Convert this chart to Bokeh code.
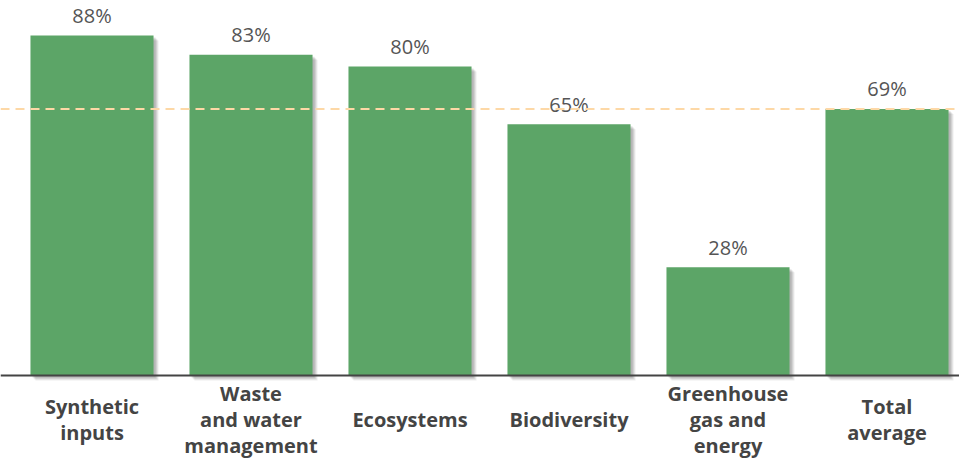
from bokeh.plotting import figure
from bokeh.models import ColumnDataSource, Span
from bokeh.core.properties import value
from bokeh.embed import file_html
from bokeh.resources import INLINE

categories = ["Synthetic\ninputs", "Waste\nand water\nmanagement", "Ecosystems",
              "Biodiversity", "Greenhouse\ngas and\nenergy", "Total\naverage"]
values = [88, 83, 80, 65, 28, 69]
value_labels = ["88%", "83%", "80%", "65%", "28%", "69%"]
average = 69

W, H = 959, 458
x_start, x_end = -0.5755, 5.456
y_start, y_end = -21.48, 97.05
px_x = (x_end - x_start) / W
px_y = (y_end - y_start) / H

xs = list(range(len(categories)))
bw = 0.774

src = ColumnDataSource(dict(
    x=xs, left=[x - bw / 2 for x in xs], right=[x + bw / 2 for x in xs],
    top=values, bottom=[0] * len(xs), lbl=value_labels, cat=categories,
    laby=[-11.4] * len(xs)))

p = figure(width=W, height=H, output_backend="svg", toolbar_location=None,
           x_range=(x_start, x_end), y_range=(y_start, y_end),
           min_border=0, min_border_left=0, min_border_right=0,
           min_border_top=0, min_border_bottom=0)
p.axis.visible = False
p.grid.visible = False
p.outline_line_color = None
p.background_fill_color = "white"

# soft shadow
for a, o in [(0.10, 5), (0.12, 4), (0.14, 3), (0.16, 2)]:
    p.quad(left=[l + o * px_x for l in src.data["left"]],
           right=[r + o * px_x for r in src.data["right"]],
           top=[t - o * px_y for t in values],
           bottom=[-o * px_y] * len(xs),
           fill_color="#555555", fill_alpha=a, line_color=None)

p.quad(left="left", right="right", top="top", bottom="bottom", source=src,
       fill_color="#5CA567", line_color=None)

# axis line
p.add_layout(Span(location=0, dimension="width", line_color="#444444", line_width=2))

# average dashed line
p.add_layout(Span(location=average, dimension="width", line_color="#FDD8A6",
                  line_width=2, line_dash="9 6"))

p.text(x="x", y="top", text="lbl", source=src, text_align="center",
       text_baseline="alphabetic", y_offset=-20, text_font=value("Open Sans"),
       text_font_size="20px", text_color="#555555")

p.text(x="x", y="laby", text="cat", source=src, text_align="center",
       text_baseline="middle", text_font=value("Open Sans"), text_font_style="bold",
       text_font_size="20px", text_color="#444444", text_line_height=0.95)

open("out.html", "w").write(file_html(p, INLINE))
